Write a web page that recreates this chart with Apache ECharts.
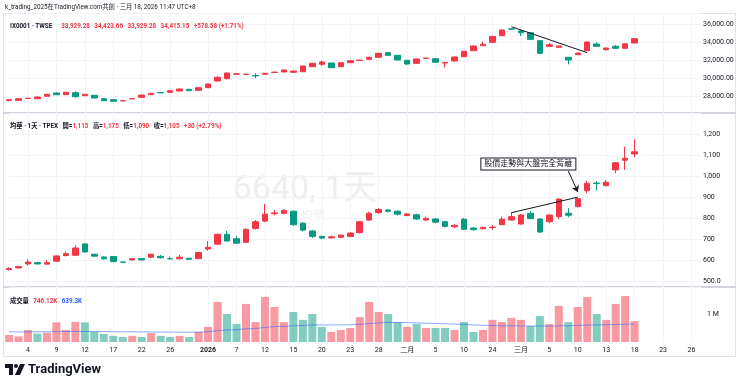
<!DOCTYPE html>
<html><head><meta charset="utf-8">
<script src="https://cdn.jsdelivr.net/npm/echarts@6/dist/echarts.min.js"></script>
<style>html,body{margin:0;padding:0;background:#fff}#c{width:740px;height:385px}</style>
</head><body><div id="c"></div>
<script>
// ---------- data ----------
const categories = [
 '2025-12-02','2025-12-03','2025-12-04','2025-12-05','2025-12-08','2025-12-09','2025-12-10','2025-12-11','2025-12-12',
 '2025-12-15','2025-12-16','2025-12-17','2025-12-18','2025-12-19','2025-12-22','2025-12-23','2025-12-24','2025-12-26',
 '2025-12-29','2025-12-30','2025-12-31',
 '2026-01-02','2026-01-05','2026-01-06','2026-01-07','2026-01-08','2026-01-09','2026-01-12','2026-01-13','2026-01-14',
 '2026-01-15','2026-01-16','2026-01-19','2026-01-20','2026-01-21','2026-01-22','2026-01-23','2026-01-26','2026-01-27',
 '2026-01-28','2026-01-29','2026-01-30',
 '2026-02-02','2026-02-03','2026-02-04','2026-02-05','2026-02-06','2026-02-09','2026-02-10','2026-02-11',
 '2026-02-23','2026-02-24','2026-02-25','2026-02-26',
 '2026-03-02','2026-03-03','2026-03-04','2026-03-05','2026-03-06','2026-03-09','2026-03-10','2026-03-11','2026-03-12',
 '2026-03-13','2026-03-16','2026-03-17','2026-03-18',
 '2026-03-19','2026-03-20','2026-03-23','2026-03-24','2026-03-25','2026-03-26','2026-03-27'
];
const labelDates = ['2025-12-04','2025-12-09','2025-12-12','2025-12-17','2025-12-22','2025-12-26','2026-01-02','2026-01-07',
 '2026-01-12','2026-01-15','2026-01-20','2026-01-23','2026-01-28','2026-02-02','2026-02-05','2026-02-10','2026-02-24',
 '2026-03-02','2026-03-05','2026-03-10','2026-03-13','2026-03-18','2026-03-23','2026-03-26'];
const labelTexts = ['4','9','12','17','22','26','2026','7','12','15','20','23','28','二月','5','10','24','三月','5','10','13','18','23','26'];

// TAIEX [open, close, low, high]
const taiex = [
 [27484,27574,27420,27640],[27518,27697,27490,27740],[27720,27750,27690,27800],[27697,27887,27680,27920],
 [27965,28189,27950,28230],[28330,28140,28100,28380],[28144,28413,28120,28460],[28368,27921,27810,28520],
 [28032,28189,28000,28230],[28078,27775,27740,28120],[27697,27473,27440,27720],[27585,27406,27380,27620],
 [27450,27480,27410,27530],[27680,27710,27640,27760],[27854,28111,27830,28140],[28144,28301,28120,28330],
 [28380,28360,28310,28440],[28413,28592,28400,28620],[28558,28782,28540,28810],[28749,28600,28560,28790],
 [28637,28928,28610,28960],[28928,29342,28900,29380],[29678,30092,29650,30200],[29950,30573,29840,30610],
 [30440,30480,30400,30540],[30410,30440,30380,30500],[30290,30250,29980,30540],[30427,30539,30400,30570],
 [30630,30670,30590,30740],[30685,30909,30660,30940],[30651,30797,30630,30830],[30719,31356,30700,31390],
 [31278,31658,31250,31700],[31547,31804,31360,31950],[31692,31166,31130,31730],[31278,31726,31250,31760],
 [31726,31949,31700,31990],[31970,32010,31940,32060],[32106,32330,32080,32370],[32330,32777,32300,32810],
 [32845,32554,32520,32900],[32554,32028,31990,32590],[31994,31580,31450,32030],[31658,32140,31620,32180],
 [32200,32240,32160,32300],[32173,31771,31740,32210],[31692,31770,31211,31790],[31915,32363,31880,32400],
 [32397,33001,32370,33040],[33068,33594,33040,33630],[33628,33784,33600,34075],[34008,34668,33980,34720],
 [34747,35385,34720,35420],[35510,35480,35420,35580],[35273,35082,34710,35385],[35082,34344,34310,35120],
 [34187,32777,32740,34220],[33561,33740,33540,33930],[33450,33594,33420,33620],[32330,32028,31546,32360],
 [32621,32811,32590,32850],[33068,34042,33040,34080],[33818,33561,33530,34008],[33180,33370,33080,33400],
 [33561,33337,33300,33706],[33337,33837,33300,33880],[33929.28,34415.15,33929.28,34423.66]
];

// 均華 6640 [open, close, low, high]
const stock = [
 [554,559,550,566],[562,568,559,572],[581,590,573,603],[587,581,578,590],[580,587,577,600],[594,619,591,622],
 [621,630,616,640],[622,657,620,670],[676,638,635,680],[627,618,615,630],[614,605,602,617],[616,592,589,618],
 [590,589,586,592],[600,606,598,608],[606,600,598,608],[613,627,611,630],[617,610,607,624],[606,605,603,616],
 [605,613,603,624],[608,603,601,610],[606,635,604,637],[652,660,644,690],[675,722,672,725],[722,690,688,738],
 [701,680,677,714],[684,746,682,749],[750,782,745,790],[785,818,780,866],[820,824,812,838],[822,836,818,842],
 [832,768,762,836],[775,742,736,780],[738,712,705,742],[712,704,700,716],[705,710,702,716],[708,718,704,722],
 [712,728,708,732],[730,782,726,786],[790,822,786,830],[826,840,820,846],[838,832,826,842],[832,818,812,836],
 [812,819,808,822],[815,795,790,820],[790,798,786,805],[795,780,775,800],[782,760,755,786],[758,765,752,770],
 [794,746,742,800],[752,744,740,756],[749,755,745,758],[754,756,744,766],[768,794,765,806],[790,806,788,827],
 [771,814,768,818],[822,797,794,833],[795,733,728,798],[782,814,775,817],[806,890,795,893],[822,813,803,846],
 [854,892,850,896],[930,965,918,978],[966,964,930,975],[954,970,950,981],[1029,1063,1013,1066],[1084,1075,1029,1140],
 [1115,1105,1090,1175]
];

// volume (thousand shares)
const volumeK = [250,200,430,300,330,700,430,720,700,360,290,220,180,220,180,320,220,180,220,180,360,540,1430,1000,640,
 1360,710,1610,1250,710,1070,790,1000,540,360,430,500,890,1430,1070,1000,710,540,640,500,500,500,430,710,360,430,790,710,
 860,790,570,930,640,1290,710,1250,1610,1000,790,1360,1640,746.12];
// volume moving average (thousand shares)
const volumeMAK = [360,360,360,365,365,370,370,375,375,375,370,370,365,365,360,360,355,355,350,350,350,365,400,430,440,
 470,480,520,550,560,580,590,610,610,610,610,615,630,660,680,700,700,690,680,670,660,650,640,630,610,600,590,580,580,575,
 570,570,565,580,580,590,605,610,615,625,635,639.3];

// ---------- chart ----------
const FONT = "Roboto, 'Noto Sans CJK TC', sans-serif";
const RED = '#f23645', GREEN = '#089981';
const RED_V = 'rgba(242,54,69,0.5)', GREEN_V = 'rgba(8,153,129,0.5)';
const TXT = '#131722';
const showLabel = (i, v) => labelDates.indexOf(v) >= 0;

const stockColors = stock.map((d, i) => (d[1] >= (i ? stock[i - 1][1] : d[0])) ? RED : GREEN);
const stockData = stock.map((d, i) => ({ value: d, itemStyle: { color: stockColors[i], color0: stockColors[i], borderColor: stockColors[i], borderColor0: stockColors[i] } }));
const volData = volumeK.map((v, i) => ({ value: v * 1000, itemStyle: { color: stockColors[i] === RED ? RED_V : GREEN_V } }));

const grids = [
  { left: 9, right: 39, top: 13, height: 100 },
  { left: 9, right: 39, top: 113, height: 174 },
  { left: 9, right: 39, top: 287, height: 55 }
];
const xAxes = [0, 1, 2].map(i => ({
  type: 'category', gridIndex: i, data: categories, boundaryGap: false,
  axisLine: { show: false }, axisTick: { show: false },
  axisLabel: {
    show: i === 2, interval: showLabel, margin: 5, fontSize: 7, color: TXT, fontFamily: FONT,
    formatter: v => { const t = labelTexts[labelDates.indexOf(v)]; return t === '2026' ? '{b|2026}' : t; },
    rich: { b: { fontWeight: 'bold', fontSize: 7, color: TXT, fontFamily: FONT } }
  },
  splitLine: { show: true, interval: showLabel, lineStyle: { color: '#f3f4f7', width: 1 } }
}));
const yCommon = {
  position: 'right', axisLine: { show: false }, axisTick: { show: false },
  splitLine: { lineStyle: { color: '#f0f3fa' } }
};
const yAxes = [
  Object.assign({}, yCommon, { gridIndex: 0, min: 26097, max: 37287, splitNumber: 5,
    axisLabel: { showMinLabel: false, showMaxLabel: false, fontSize: 7, color: TXT, margin: 2, fontFamily: FONT,
      formatter: v => v.toLocaleString('en-US', { minimumFractionDigits: 2, maximumFractionDigits: 2 }) } }),
  Object.assign({}, yCommon, { gridIndex: 1, min: 471, max: 1300, splitNumber: 8,
    axisLabel: { showMinLabel: false, showMaxLabel: false, fontSize: 7, color: TXT, margin: 2, fontFamily: FONT,
      formatter: v => v === 500 ? '500.0' : v.toLocaleString('en-US') } }),
  Object.assign({}, yCommon, { gridIndex: 2, min: 0, max: 1964000, splitNumber: 2,
    splitLine: { show: false },
    axisLabel: { showMinLabel: false, showMaxLabel: false, fontSize: 7, color: TXT, margin: 6, fontFamily: FONT,
      formatter: v => v === 1000000 ? '1 M' : '' } })
];

const HF = 6.3;
const chart = echarts.init(document.getElementById('c'), null, { renderer: 'canvas' });
chart.setOption({
  animation: false,
  backgroundColor: '#ffffff',
  textStyle: { fontFamily: FONT },
  title: [
    { left: 5, top: 4, padding: 0, text: 'k_trading_2025在TradingView.com共創 · 三月 18, 2026 11:47 UTC+8',
      textStyle: { fontSize: 6.3, fontWeight: 'normal', color: TXT, fontFamily: FONT } },
    { left: 10, top: 17, padding: 0,
      text: '{n|IX0001 · TWSE}  {v|33,929.28} {v|34,423.66} {v|33,929.28} {v|34,415.15} {v|+578.58 (+1.71%)}',
      textStyle: { rich: { n: { fontSize: HF, color: TXT, fontFamily: FONT }, v: { fontSize: HF, color: RED, fontFamily: FONT } } } },
    { left: 10, top: 117, padding: 0,
      text: '{n|均華 · 1天 · TPEX} {n|開=}{v|1,115} {n|高=}{v|1,175} {n|低=}{v|1,090} {n|收=}{v|1,105} {v|+30 (+2.79%)}',
      textStyle: { rich: { n: { fontSize: HF, color: TXT, fontFamily: FONT }, v: { fontSize: HF, color: RED, fontFamily: FONT } } } },
    { left: 10, top: 292, padding: 0,
      text: '{n|成交量} {r|746.12K} {b|639.3K}',
      textStyle: { rich: { n: { fontSize: HF, color: TXT, fontFamily: FONT }, r: { fontSize: HF, color: RED, fontFamily: FONT }, b: { fontSize: HF, color: '#2962ff', fontFamily: FONT } } } },
    { left: 28, top: 363, padding: 0, text: 'TradingView',
      textStyle: { fontSize: 13, fontWeight: 'bold', color: TXT, fontFamily: FONT } }
  ],
  grid: grids,
  xAxis: xAxes,
  yAxis: yAxes,
  graphic: [
    { type: 'rect', silent: true, z: -1, shape: { x: 3.5, y: 13.5, width: 732, height: 343 }, style: { fill: 'none', stroke: '#e0e3eb', lineWidth: 1 } },
    { type: 'line', silent: true, shape: { x1: 3, y1: 113, x2: 736, y2: 113 }, style: { stroke: '#d1d4dc', lineWidth: 2 } },
    { type: 'line', silent: true, shape: { x1: 3, y1: 287, x2: 736, y2: 287 }, style: { stroke: '#d1d4dc', lineWidth: 2 } },
    { type: 'text', silent: true, z: -1, x: 305, y: 190, style: { text: '6640, 1天', fontSize: 34, fill: 'rgba(120,123,134,0.13)', align: 'center', verticalAlign: 'middle', fontFamily: FONT } },
    { type: 'text', silent: true, z: -1, x: 313, y: 217, style: { text: '均華', fontSize: 12, fill: 'rgba(120,123,134,0.13)', align: 'center', verticalAlign: 'middle', fontFamily: FONT } },
    { type: 'group', x: 5, y: 364, silent: true, children: [
      { type: 'polygon', shape: { points: [[0,0],[8,0],[8,11],[4,11],[4,4],[0,4]] }, style: { fill: TXT } },
      { type: 'circle', shape: { cx: 11, cy: 2, r: 2 }, style: { fill: TXT } },
      { type: 'polygon', shape: { points: [[15,0],[20,0],[15,11],[10,11]] }, style: { fill: TXT } }
    ] }
  ],
  series: [
    { type: 'candlestick', name: 'TAIEX', xAxisIndex: 0, yAxisIndex: 0, data: taiex, barWidth: 6, clip: false,
      itemStyle: { color: RED, color0: GREEN, borderColor: RED, borderColor0: GREEN, borderWidth: 1 },
      markLine: { silent: true, symbol: ['none', 'none'], label: { show: false },
        lineStyle: { color: TXT, width: 1, type: 'solid' },
        data: [[{ coord: ['2026-02-26', 35754] }, { coord: ['2026-03-11', 32844] }]] } },
    { type: 'candlestick', name: '均華', xAxisIndex: 1, yAxisIndex: 1, data: stockData, barWidth: 6, clip: false,
      markLine: { silent: true, label: { show: false },
        lineStyle: { color: TXT, width: 1, type: 'solid' },
        data: [
          [{ coord: ['2026-02-26', 825], symbol: 'none' }, { coord: ['2026-03-10', 899], symbol: 'none' }],
          [{ coord: ['2026-03-09', 1024], symbol: 'none' }, { coord: ['2026-03-10', 924], symbol: 'arrow', symbolSize: 6 }]
        ] },
      markPoint: { silent: true, data: [{
        coord: ['2026-03-03', 1057], symbol: 'rect', symbolSize: 1, symbolOffset: [-2, 0],
        itemStyle: { color: 'rgba(0,0,0,0)', borderWidth: 0 },
        label: { show: true, position: 'inside', formatter: '股價走勢與大盤完全背離', fontSize: 8, color: TXT, fontFamily: FONT,
          backgroundColor: '#ffffff', borderColor: TXT, borderWidth: 1, padding: [2, 3, 1, 3] }
      }] } },
    { type: 'bar', name: '成交量', xAxisIndex: 2, yAxisIndex: 2, data: volData, barWidth: 8, clip: false },
    { type: 'line', name: 'MA', xAxisIndex: 2, yAxisIndex: 2, data: volumeMAK.map(v => v * 1000), symbol: 'none',
      lineStyle: { color: 'rgba(41,98,255,0.55)', width: 1 } }
  ]
});
</script>
</body></html>
